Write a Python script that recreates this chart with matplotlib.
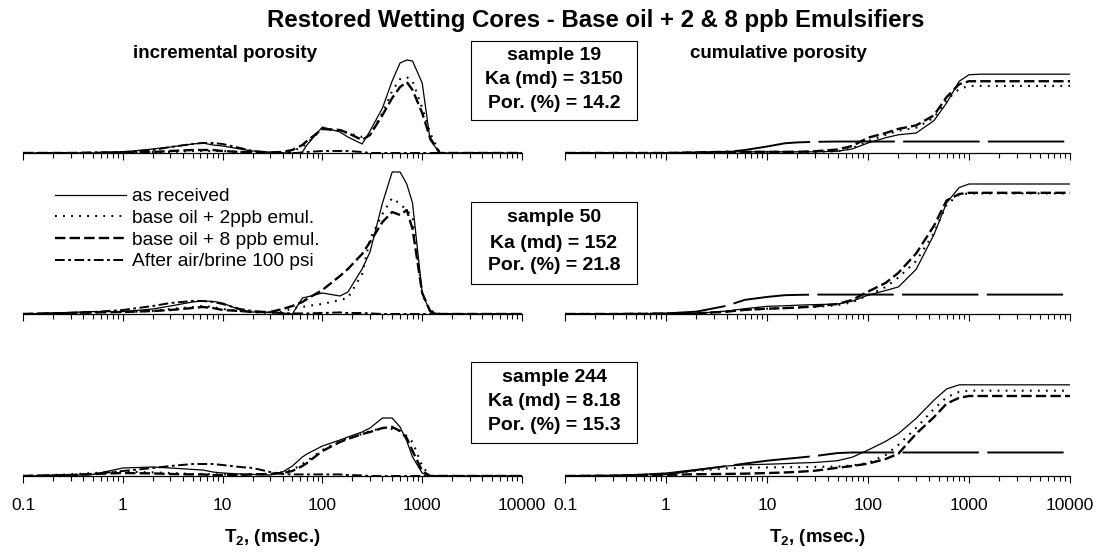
import matplotlib.pyplot as plt
from matplotlib.patches import Rectangle
from matplotlib.ticker import LogLocator, NullFormatter

plt.rcParams['font.family'] = ['Liberation Sans', 'DejaVu Sans']
plt.rcParams['mathtext.fontset'] = 'custom'
plt.rcParams['mathtext.rm'] = 'Liberation Sans'
plt.rcParams['mathtext.bf'] = 'Liberation Sans:bold'
# dash patterns below are given in points
plt.rcParams['lines.scale_dashes'] = False

# T2 bins (msec.) of the incremental porosity curves
t2_inc = [0.1, 0.3, 0.5, 1, 2, 3, 5, 6.3, 8, 10, 15, 20, 30, 40, 50, 63, 70, 100, 150, 180,
          250, 300, 400, 500, 600, 700, 800, 1000, 1200, 1500, 10000]

# incremental porosity, sample 19
inc19_received = [0, 0, 0, 0.05, 0.2, 0.3, 0.45, 0.5, 0.4, 0.35, 0.2, 0.1, 0.03, 0, 0, 0.05, 0.4, 1.3, 1.05, 0.8,
                  0.45, 1.1, 2.25, 3.6, 4.5, 4.65, 4.6, 3.5, 0.65, 0, 0]
inc19_2ppb = [0, 0, 0, 0.03, 0.05, 0.05, 0.1, 0.1, 0.1, 0.1, 0.05, 0.05, 0.03, 0, 0.1, 0.3, 0.5, 1.2, 1.1, 1.0,
              0.8, 0.9, 2.0, 3.1, 3.7, 3.8, 3.6, 2.25, 1.0, 0, 0]
inc19_8ppb = [0, 0, 0, 0.03, 0.05, 0.1, 0.15, 0.15, 0.15, 0.1, 0.05, 0.05, 0.03, 0.05, 0.15, 0.4, 0.6, 1.2, 1.15, 1.0,
              0.65, 0.9, 1.9, 2.75, 3.3, 3.55, 3.15, 2.0, 0.75, 0, 0]
inc19_air = [0, 0, 0.03, 0.05, 0.15, 0.3, 0.45, 0.5, 0.5, 0.45, 0.25, 0.1, 0.03, 0, 0, 0, 0.05, 0.1, 0.1, 0.1,
             0.05, 0, 0, 0, 0, 0, 0, 0, 0, 0, 0]

# incremental porosity, sample 50
inc50_received = [0, 0.08, 0.12, 0.12, 0.25, 0.4, 0.6, 0.65, 0.63, 0.55, 0.2, 0.1, 0.08, 0.05, 0, 0.8, 0.85, 1.05, 0.9, 1.1,
                  2.25, 3.1, 5.55, 7.1, 7.1, 6.5, 5.55, 1.05, 0.1, 0, 0]
inc50_2ppb = [0, 0.05, 0.08, 0.1, 0.15, 0.25, 0.35, 0.4, 0.35, 0.25, 0.15, 0.1, 0.05, 0.1, 0.3, 0.35, 0.4, 0.5, 0.7, 0.8,
              2.0, 3.75, 5.0, 5.8, 5.5, 5.2, 4.85, 1.0, 0.15, 0, 0]
inc50_8ppb = [0, 0.05, 0.08, 0.1, 0.15, 0.2, 0.3, 0.35, 0.3, 0.2, 0.15, 0.1, 0.1, 0.25, 0.4, 0.6, 0.75, 1.2, 1.9, 2.25,
              3.0, 3.6, 4.6, 5.1, 4.95, 5.2, 4.25, 1.05, 0.15, 0, 0]
inc50_air = [0, 0.05, 0.1, 0.2, 0.4, 0.55, 0.65, 0.65, 0.6, 0.5, 0.25, 0.15, 0.08, 0.05, 0.03, 0.03, 0.03, 0.05, 0.08, 0.05,
             0.05, 0.03, 0, 0, 0, 0, 0, 0, 0, 0, 0]

# incremental porosity, sample 244
inc244_received = [0, 0.03, 0.08, 0.4, 0.45, 0.4, 0.33, 0.3, 0.2, 0.15, 0.1, 0.08, 0.05, 0.2, 0.5, 0.95, 1.1, 1.5, 1.8, 1.95,
                   2.2, 2.4, 2.9, 2.9, 2.45, 1.75, 0.95, 0.15, 0, 0, 0]
inc244_2ppb = [0, 0.08, 0.15, 0.22, 0.18, 0.15, 0.1, 0.1, 0.08, 0.08, 0.08, 0.1, 0.1, 0.2, 0.3, 0.6, 0.75, 1.3, 1.75, 1.9,
               2.1, 2.25, 2.4, 2.35, 2.25, 2.0, 1.7, 0.5, 0, 0, 0]
inc244_8ppb = [0, 0.05, 0.1, 0.15, 0.13, 0.1, 0.08, 0.08, 0.05, 0.05, 0.05, 0.08, 0.1, 0.15, 0.25, 0.5, 0.65, 1.25, 1.7, 1.85,
               2.1, 2.2, 2.4, 2.45, 2.25, 1.9, 1.25, 0.25, 0, 0, 0]
inc244_air = [0, 0.05, 0.1, 0.25, 0.4, 0.5, 0.6, 0.6, 0.6, 0.55, 0.45, 0.4, 0.2, 0.1, 0.08, 0.08, 0.08, 0.08, 0.08, 0.05,
              0.03, 0, 0, 0, 0, 0, 0, 0, 0, 0, 0]

# T2 points (msec.) of the cumulative porosity curves
t2_cum = [0.1, 0.3, 1, 2, 4, 6, 10, 15, 20, 30, 50, 70, 100, 150, 200, 300, 450, 600, 800, 1000, 1300, 10000]

# cumulative porosity (%), sample 19
cum19_received = [0, 0, 0, 0.1, 0.2, 0.2, 0.2, 0.2, 0.2, 0.2, 0.3, 0.7, 1.7, 2.6, 3.1, 3.4, 5.5, 8.5, 12.2, 13.3, 13.4, 13.4]
cum19_2ppb = [0, 0, 0, 0.1, 0.2, 0.2, 0.2, 0.2, 0.2, 0.2, 0.3, 0.8, 2.0, 3.1, 3.8, 4.3, 6.0, 9.0, 10.9, 11.4, 11.4, 11.4]
cum19_8ppb = [0, 0, 0, 0.1, 0.2, 0.2, 0.2, 0.2, 0.2, 0.3, 0.6, 1.2, 2.6, 3.4, 4.1, 4.7, 6.4, 9.5, 11.7, 12.2, 12.2, 12.2]
cum19_air = [0, 0, 0, 0.05, 0.2, 0.5, 1.1, 1.65, 1.8, 1.9, 1.95, 1.95, 1.95, 1.95, 1.95, 1.95, 1.95, 1.95, 1.95, 1.95,
             1.95, 1.95]

# cumulative porosity (%), sample 50
cum50_received = [0, 0, 0.05, 0.1, 0.5, 0.9, 1.3, 1.4, 1.5, 1.6, 1.7, 2.2, 3.2, 4.0, 4.6, 7.6, 13.5, 18.9, 21.5, 22.1, 22.1, 22.1]
cum50_2ppb = [0, 0, 0.05, 0.1, 0.4, 0.7, 0.9, 1.0, 1.1, 1.2, 1.5, 2.0, 3.2, 4.6, 6.2, 9.0, 13.8, 18.6, 20.3, 20.5, 20.5, 20.5]
cum50_8ppb = [0, 0, 0.05, 0.1, 0.4, 0.7, 0.9, 1.0, 1.1, 1.3, 1.7, 2.4, 3.8, 5.3, 7.0, 10.3, 15.0, 19.3, 20.4, 20.6, 20.6, 20.6]
cum50_air = [0, 0, 0.1, 0.4, 1.4, 2.4, 2.9, 3.2, 3.25, 3.3, 3.3, 3.3, 3.3, 3.3, 3.3, 3.3, 3.3, 3.3, 3.3, 3.3, 3.3, 3.3]

# cumulative porosity (%), sample 244
cum244_received = [0, 0.05, 0.5, 1.1, 1.7, 1.9, 2.0, 2.1, 2.2, 2.3, 2.6, 3.2, 4.4, 5.9, 7.2, 9.8, 12.9, 14.8, 15.5, 15.5,
                   15.5, 15.5]
cum244_2ppb = [0, 0.05, 0.4, 0.9, 1.3, 1.4, 1.45, 1.5, 1.5, 1.55, 1.6, 1.8, 2.2, 3.6, 5.3, 8.2, 11.4, 13.4, 14.3, 14.5,
               14.5, 14.5]
cum244_8ppb = [0, 0.05, 0.2, 0.3, 0.35, 0.4, 0.5, 0.6, 0.7, 0.9, 1.4, 1.7, 2.1, 2.9, 3.8, 7.2, 10.0, 12.3, 13.3, 13.6,
               13.6, 13.6]
cum244_air = [0, 0.05, 0.3, 1.0, 1.7, 2.1, 2.6, 2.9, 3.1, 3.4, 3.9, 4.0, 4.0, 4.0, 4.0, 4.0, 4.0, 4.0, 4.0, 4.0, 4.0, 4.0]

samples = ['19', '50', '244']
ka_md = ['3150', '152', '8.18']
porosity = ['14.2', '21.8', '15.3']
series_labels = ['as received', 'base oil + 2ppb emul.', 'base oil + 8 ppb emul.', 'After air/brine 100 psi']
tick_values = [0.1, 1, 10, 100, 1000, 10000]
tick_labels = ['0.1', '1', '10', '100', '1000', '10000']

inc_rows = [[inc19_received, inc19_2ppb, inc19_8ppb, inc19_air],
            [inc50_received, inc50_2ppb, inc50_8ppb, inc50_air],
            [inc244_received, inc244_2ppb, inc244_8ppb, inc244_air]]
cum_rows = [[cum19_received, cum19_2ppb, cum19_8ppb, cum19_air],
            [cum50_received, cum50_2ppb, cum50_8ppb, cum50_air],
            [cum244_received, cum244_2ppb, cum244_8ppb, cum244_air]]

# line styles: solid, dotted, dashed, dash-dot
styles = [dict(ls='-', lw=0.9),
          dict(ls=(0, (1.3, 4.5)), lw=1.5),
          dict(ls=(0, (7.5, 3)), lw=1.7),
          dict(ls=(0, (7, 2.5, 2, 2.5)), lw=1.4)]
cum_air_style = dict(ls=(0, (55, 6)), lw=1.4)

W, H = 1099, 552
fig = plt.figure(figsize=(W / 100, H / 100), dpi=100)


def add_panel(x0, x1, baseline, ymax):
    # axes placed by pixel positions, only the bottom axis line shows
    ax = fig.add_axes([x0 / W, (H - baseline) / H, (x1 - x0) / W, 150 / H])
    ax.set_xscale('log')
    ax.set_xlim(0.1, 10000)
    ax.set_ylim(0, ymax)
    for side in ['left', 'right', 'top']:
        ax.spines[side].set_visible(False)
    ax.spines['bottom'].set_linewidth(0.9)
    ax.set_yticks([])
    ax.set_xticks(tick_values)
    ax.xaxis.set_minor_locator(LogLocator(base=10, subs=range(2, 10)))
    ax.xaxis.set_minor_formatter(NullFormatter())
    ax.tick_params(axis='x', which='major', direction='out', length=5, width=0.8, pad=11, labelsize=12.6)
    ax.tick_params(axis='x', which='minor', direction='out', length=3.5, width=0.8)
    ax.patch.set_visible(False)
    return ax


baselines = [153, 314, 476]
for row in range(3):
    last = row == 2
    ax_l = add_panel(23, 522, baselines[row], 7.5)
    ax_r = add_panel(565, 1070, baselines[row], 25.5)
    for k in range(4):
        ax_l.plot(t2_inc, inc_rows[row][k], color='black', label=series_labels[k], **styles[k])
        st = cum_air_style if k == 3 else styles[k]
        ax_r.plot(t2_cum, cum_rows[row][k], color='black', **st)
    for ax in [ax_l, ax_r]:
        if last:
            ax.set_xticklabels(tick_labels)
            ax.set_xlabel(r'$\mathbf{T_2}$, (msec.)', fontsize=13.5, fontweight='bold', labelpad=10)
        else:
            ax.set_xticklabels([])
    if row == 1:
        ax_l.legend(loc='upper left', bbox_to_anchor=(55 / W, 1 - 188 / H), bbox_transform=fig.transFigure,
                    frameon=False, fontsize=13.8, handlelength=3.7, handletextpad=0.3,
                    labelspacing=0.22, borderpad=0, borderaxespad=0)

# sample boxes between the two columns
box_tops = [41, 202, 362]
box_bottoms = [120, 284, 443]
text_rows = [[55, 80, 104], [218, 243, 266], [378, 402, 426]]
for row in range(3):
    rect = Rectangle((471 / W, 1 - box_bottoms[row] / H), 166 / W, (box_bottoms[row] - box_tops[row]) / H,
                     transform=fig.transFigure, facecolor='white', edgecolor='black', linewidth=0.8)
    fig.add_artist(rect)
    lines = ['sample ' + samples[row], 'Ka (md) = ' + ka_md[row], 'Por. (%) = ' + porosity[row]]
    for txt, y in zip(lines, text_rows[row]):
        fig.text(554 / W, 1 - y / H, txt, ha='center', va='center', fontsize=14, fontweight='bold')

fig.text(596 / W, 1 - 20 / H, 'Restored Wetting Cores - Base oil + 2 & 8 ppb Emulsifiers',
         ha='center', va='center', fontsize=17.3, fontweight='bold')
fig.text(225 / W, 1 - 53 / H, 'incremental porosity', ha='center', va='center', fontsize=13.5, fontweight='bold')
fig.text(778 / W, 1 - 53 / H, 'cumulative porosity', ha='center', va='center', fontsize=13.5, fontweight='bold')

plt.savefig('out.png', dpi=100)
